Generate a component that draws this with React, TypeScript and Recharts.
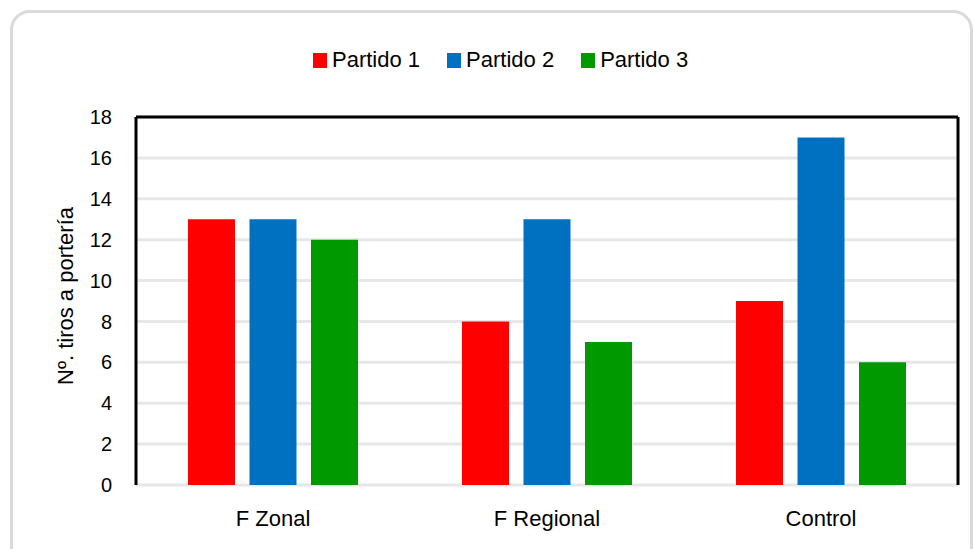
import { Bar, BarChart, CartesianGrid, ReferenceLine, XAxis, YAxis } from "recharts";

const categories = ["F Zonal", "F Regional", "Control"];
const partido1 = [13, 8, 9];
const partido2 = [13, 13, 17];
const partido3 = [12, 7, 6];
const yTicks = [0, 2, 4, 6, 8, 10, 12, 14, 16, 18];

const series = [
  { key: "p1", name: "Partido 1", color: "#ff0000" },
  { key: "p2", name: "Partido 2", color: "#0070c0" },
  { key: "p3", name: "Partido 3", color: "#009900" },
];

const data = categories.map((name, i) => ({
  name,
  p1: partido1[i],
  p2: partido2[i],
  p3: partido3[i],
}));

const FONT = '"Liberation Sans", Arial, sans-serif';

function LegendRow() {
  return (
    <div
      style={{
        position: "absolute",
        left: 313,
        top: 48,
        display: "flex",
        alignItems: "center",
        fontFamily: FONT,
        fontSize: 22,
        color: "#000",
        whiteSpace: "nowrap",
      }}
    >
      {series.map((s) => (
        <span key={s.key} style={{ display: "flex", alignItems: "center", marginRight: 27 }}>
          <span style={{ width: 14, height: 15, background: s.color, marginRight: 5 }} />
          <span style={{ lineHeight: "24px" }}>{s.name}</span>
        </span>
      ))}
    </div>
  );
}

function AxisTitle() {
  return (
    <text
      x={65}
      y={296}
      transform="rotate(-90 65 296)"
      textAnchor="middle"
      dominantBaseline="central"
      fontFamily={FONT}
      fontSize={22}
      fill="#000"
    >
      Nº. tiros a portería
    </text>
  );
}

export default function App() {
  return (
    <div style={{ position: "fixed", left: 0, top: 0, width: 974, height: 549, background: "#fff", overflow: "hidden" }}>
      <div
        style={{
          position: "absolute",
          left: 10,
          top: 10,
          width: 957,
          height: 580,
          border: "3px solid #dadada",
          borderRadius: 20,
        }}
      />
      <div style={{ position: "absolute", left: 0, top: 0 }}>
        <BarChart
          width={974}
          height={549}
          data={data}
          margin={{ top: 117, right: 0, bottom: 34, left: 76 }}
          barSize={47}
          barGap={14.5}
        >
          <CartesianGrid vertical={false} stroke="#e8e6e6" strokeWidth={3} />
          <XAxis
            dataKey="name"
            height={30}
            axisLine={false}
            tickLine={false}
            tickSize={0}
            tickMargin={25}
            tick={{ fill: "#000", fontSize: 22, fontFamily: FONT }}
          />
          <YAxis
            width={60}
            domain={[0, 18]}
            ticks={yTicks}
            interval={0}
            tickLine={false}
            tickSize={0}
            tickMargin={24}
            axisLine={{ stroke: "#000", strokeWidth: 3 }}
            tick={{ fill: "#000", fontSize: 20, fontFamily: FONT }}
            label={{ content: () => <AxisTitle /> }}
          />
          <YAxis
            yAxisId="frame"
            orientation="right"
            width={16}
            domain={[0, 18]}
            tick={false}
            tickLine={false}
            axisLine={{ stroke: "#000", strokeWidth: 3 }}
          />
          <ReferenceLine y={18} stroke="#000" strokeWidth={3} />
          {series.map((s) => (
            <Bar key={s.key} dataKey={s.key} name={s.name} fill={s.color} isAnimationActive={false} />
          ))}
        </BarChart>
      </div>
      <LegendRow />
    </div>
  );
}
